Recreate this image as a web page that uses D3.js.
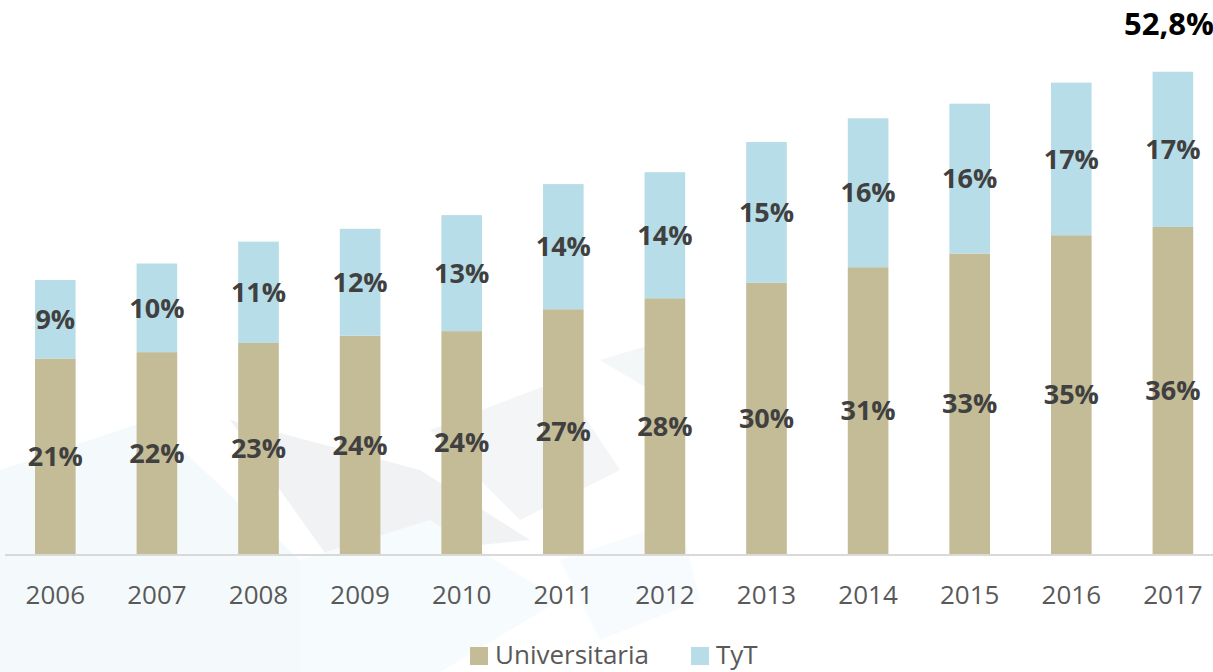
<!DOCTYPE html>
<html>
<head>
<meta charset="utf-8">
<script src="https://cdn.jsdelivr.net/npm/d3@7"></script>
<style>
  body { margin: 0; background: #fff; }
  svg { display: block; font-family: "Open Sans", sans-serif; }
</style>
</head>
<body>
<div id="chart-area"></div>
<script>
// data (shares, %)
var years = ["2006","2007","2008","2009","2010","2011","2012","2013","2014","2015","2016","2017"];
var universitaria = [21.4, 22.1, 23.1, 23.9, 24.4, 26.8, 28.0, 29.7, 31.4, 32.9, 34.9, 35.8];
var tyt = [8.6, 9.7, 11.1, 11.7, 12.7, 13.7, 13.8, 15.4, 16.3, 16.4, 16.7, 17.0];
var seriesNames = ["Universitaria", "TyT"];
var totalLabel = "52,8%";

var width = 1213, height = 672;

var svg = d3.select("#chart-area").append("svg")
    .attr("width", width)
    .attr("height", height);

// faint watermark shapes in the background
var bg = svg.append("g").attr("opacity", 0.2);
bg.append("polygon").attr("points", "0,470 150,420 300,560 300,672 0,672").attr("fill", "#cde9f5");
bg.append("polygon").attr("points", "230,420 420,470 530,540 330,560").attr("fill", "#b8c3c9");
bg.append("polygon").attr("points", "300,560 430,520 560,600 440,672 300,672").attr("fill", "#d6eef8");
bg.append("polygon").attr("points", "430,430 560,380 620,470 520,520").attr("fill", "#c6d0d6");
bg.append("polygon").attr("points", "600,360 650,345 650,390").attr("fill", "#c8d8dc");
bg.append("polygon").attr("points", "560,560 680,520 700,600 600,640").attr("fill", "#d9eef7");

var rows = years.map((y, i) => ({year: y, Universitaria: universitaria[i], TyT: tyt[i]}));
var stacked = d3.stack().keys(seriesNames)(rows);

var x = d3.scaleBand()
    .domain(years)
    .range([4.5, 1223.7])
    .paddingInner(0.6)
    .paddingOuter(0.3);

var y = d3.scaleLinear()
    .domain([0, 55])
    .range([554, 554 - 55 * 9.134]);

var colors = d3.scaleOrdinal()
    .domain(seriesNames)
    .range(["#c4bc96", "#b7dde8"]);

var fmt = (v) => Math.round(v) + "%";

var layers = svg.selectAll("g.layer").data(stacked).enter()
    .append("g").attr("class", "layer")
    .attr("fill", (d) => colors(d.key));

layers.selectAll("rect").data((d) => d).enter()
    .append("rect")
        .attr("x", (d) => x(d.data.year))
        .attr("width", x.bandwidth())
        .attr("y", (d) => y(d[1]))
        .attr("height", (d) => y(d[0]) - y(d[1]));

layers.selectAll("text").data((d) => d).enter()
    .append("text")
        .attr("x", (d) => x(d.data.year) + x.bandwidth() / 2)
        .attr("y", (d) => (y(d[0]) + y(d[1])) / 2)
        .attr("dy", "0.36em")
        .attr("text-anchor", "middle")
        .attr("fill", "#404040")
        .attr("font-weight", "bold")
        .attr("font-size", 27)
        .text((d) => fmt(d[1] - d[0]));

// baseline
svg.append("line")
    .attr("x1", 5).attr("x2", width)
    .attr("y1", y(0) + 1).attr("y2", y(0) + 1)
    .attr("stroke", "#d9d9d9").attr("stroke-width", 2);

// year labels
var xAxis = svg.append("g")
    .attr("transform", "translate(0," + y(0) + ")")
    .call(d3.axisBottom(x).tickSize(0).tickPadding(32));
xAxis.select(".domain").remove();
xAxis.selectAll("text")
    .attr("font-family", "Open Sans, sans-serif")
    .attr("font-size", 26)
    .attr("fill", "#595959");

// total on the last bar
svg.append("text")
    .attr("x", 1124)
    .attr("y", 35)
    .attr("font-weight", "bold")
    .attr("font-size", 31)
    .attr("fill", "#000")
    .text(totalLabel);

// legend
var legend = svg.append("g");
var legendX = [470, 691];
seriesNames.forEach((name, i) => {
    legend.append("rect")
        .attr("x", legendX[i]).attr("y", 647)
        .attr("width", 18).attr("height", 18)
        .attr("fill", colors(name));
    legend.append("text")
        .attr("x", legendX[i] + 25).attr("y", 664)
        .attr("font-size", 26)
        .attr("fill", "#595959")
        .text(name);
});
</script>
</body>
</html>
